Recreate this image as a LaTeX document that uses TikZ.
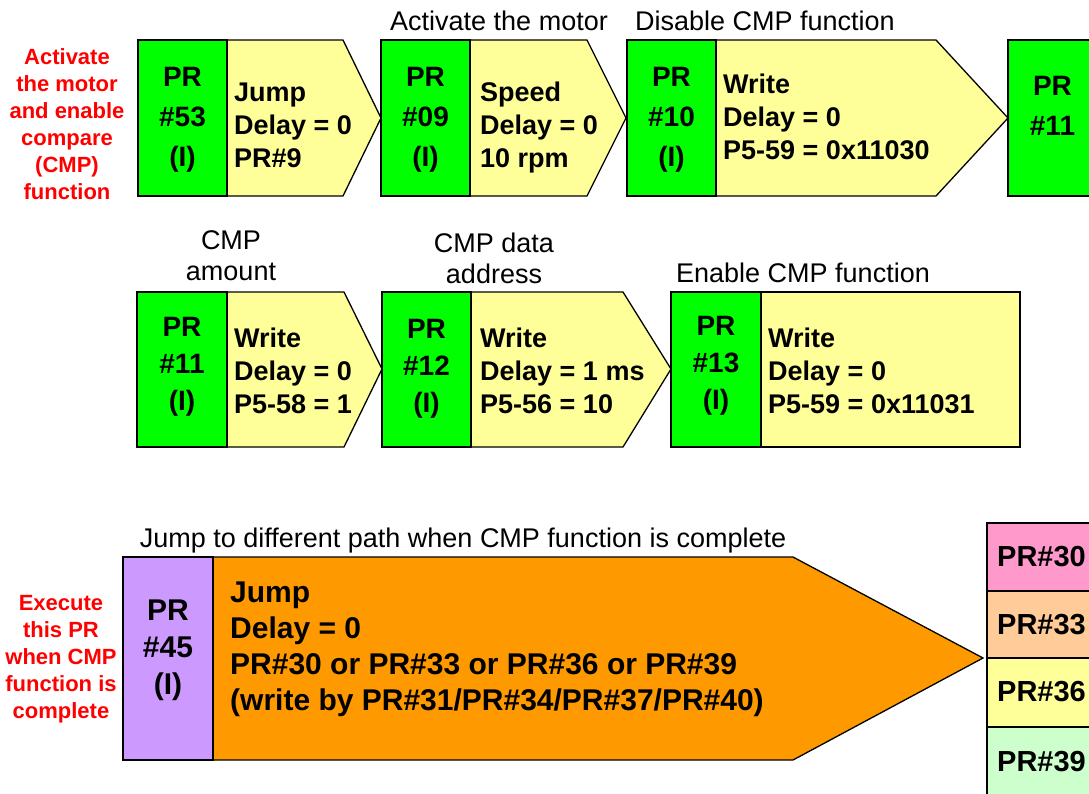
\documentclass[tikz,border=0pt]{standalone}
\usepackage{fontspec}
\setmainfont{Liberation Sans}
\usepackage{tikz}
\usetikzlibrary{positioning}
\definecolor{prgreen}{HTML}{00FF00}
\definecolor{stepyellow}{HTML}{FFFF99}
\definecolor{prpurple}{HTML}{CC99FF}
\definecolor{steporange}{HTML}{FF9900}
\definecolor{pathpink}{HTML}{FF99CC}
\definecolor{pathpeach}{HTML}{FFCC99}
\definecolor{pathgreen}{HTML}{CCFFCC}
\definecolor{notered}{HTML}{FF0000}
\tikzset{
  shapeline/.style={draw=black, line width=1.3pt, line join=miter},
  greencell/.style={shapeline, fill=prgreen},
  purplecell/.style={shapeline, fill=prpurple},
  yellowstep/.style={shapeline, fill=stepyellow},
  orangestep/.style={shapeline, fill=steporange},
  celltext/.style={align=center, inner sep=0pt, font=\fontsize{28}{40}\selectfont\bfseries},
  steptext/.style={anchor=west, align=left, inner sep=0pt, font=\fontsize{27}{33}\selectfont\bfseries},
  captext/.style={align=center, inner sep=0pt, font=\fontsize{27}{31}\selectfont},
  redlab/.style={align=center, inner sep=0pt, text=notered, font=\fontsize{22}{27}\selectfont\bfseries},
  pathtext/.style={anchor=west, inner sep=0pt, font=\fontsize{29}{33}\selectfont\bfseries},
}

\begin{document}
\begin{tikzpicture}[x=1pt, y=-1pt]
    \useasboundingbox (0,0) rectangle (1089,793);
    \clip (0,0) rectangle (1089,793);

    % first row
    \node[redlab] (noteon) at (67,124) {Activate\\the motor\\and enable\\compare\\(CMP)\\function};
    \filldraw[yellowstep] (227,40) -- (343,40) -- (381,118) -- (343,196) -- (227,196) -- cycle;
    \filldraw[greencell] (138,40) rectangle (227,196);
    \node[celltext] (pr53) at (182.5,120) {PR\\\#53\\(I)};
    \node[steptext] (jump53) at (234,125) {Jump\\Delay = 0\\PR\#9};

    \node[captext] (capmotor) at (499,21) {Activate the motor};
    \filldraw[yellowstep] (470,40) -- (587,40) -- (626,118) -- (587,196) -- (470,196) -- cycle;
    \filldraw[greencell] (381,40) rectangle (470,196);
    \node[celltext] (pr09) at (425.5,120) {PR\\\#09\\(I)};
    \node[steptext] (speed09) at (480,128) {Speed\\Delay = 0\\10 rpm};

    \node[captext] (capoff) at (765,21) {Disable CMP function};
    \filldraw[yellowstep] (716,40) -- (936,40) -- (1008,118) -- (936,196) -- (716,196) -- cycle;
    \filldraw[greencell] (627,40) rectangle (716,196);
    \node[celltext] (pr10) at (671.5,120) {PR\\\#10\\(I)};
    \node[steptext] (write10) at (723,117) {Write\\Delay = 0\\P5-59 = 0x11030};

    \filldraw[greencell] (1008,40) rectangle (1097,196);
    \node[celltext] (pr11next) at (1052.5,106) {PR\\\#11};

    % second row
    \node[captext] (capamount) at (231,256) {CMP\\amount};
    \filldraw[yellowstep] (227,292) -- (344,292) -- (382,369) -- (344,447) -- (227,447) -- cycle;
    \filldraw[greencell] (137,292) rectangle (227,447);
    \node[celltext, font=\fontsize{28}{37}\selectfont\bfseries] (pr11) at (182,367) {PR\\\#11\\(I)};
    \node[steptext] (write11) at (234,371) {Write\\Delay = 0\\P5-58 = 1};

    \node[captext] (capaddr) at (494,258) {CMP data\\address};
    \filldraw[yellowstep] (471,292) -- (623,292) -- (671,369) -- (623,447) -- (471,447) -- cycle;
    \filldraw[greencell] (382,292) rectangle (471,447);
    \node[celltext, font=\fontsize{28}{37}\selectfont\bfseries] (pr12) at (426.5,369) {PR\\\#12\\(I)};
    \node[steptext] (write12) at (480,371) {Write\\Delay = 1 ms\\P5-56 = 10};

    \node[captext] (capon) at (803,273) {Enable CMP function};
    \filldraw[yellowstep] (761,292) rectangle (1020,447);
    \filldraw[greencell] (671,292) rectangle (761,447);
    \node[celltext, font=\fontsize{28}{37}\selectfont\bfseries] (pr13) at (716,366) {PR\\\#13\\(I)};
    \node[steptext] (write13) at (768,371) {Write\\Delay = 0\\P5-59 = 0x11031};

    % third row
    \node[redlab] (notedone) at (61,659) {Execute\\this PR\\when CMP\\function is\\complete};
    \node[captext] (capjump) at (463,541) {Jump to different path when CMP function is complete};
    \filldraw[orangestep] (213,557) -- (793,557) -- (983,658) -- (793,760) -- (213,760) -- cycle;
    \filldraw[purplecell] (123,557) rectangle (213,760);
    \node[celltext, font=\fontsize{30}{37}\selectfont\bfseries] (pr45) at (168,650) {PR\\\#45\\(I)};
    \node[steptext, font=\fontsize{30}{36}\selectfont\bfseries] (jump45) at (230,649)
      {Jump\\Delay = 0\\PR\#30 or PR\#33 or PR\#36 or PR\#39\\(write by PR\#31/PR\#34/PR\#37/PR\#40)};

    \filldraw[shapeline, fill=pathpink] (987,523) rectangle (1120,591);
    \filldraw[shapeline, fill=pathpeach] (987,591) rectangle (1120,658);
    \filldraw[shapeline, fill=stepyellow] (987,658) rectangle (1120,727);
    \filldraw[shapeline, fill=pathgreen] (987,727) rectangle (1120,800);
    \node[pathtext] (pr30) at (997,557) {PR\#30};
    \node[pathtext] (pr33) at (997,625) {PR\#33};
    \node[pathtext] (pr36) at (997,692) {PR\#36};
    \node[pathtext] (pr39) at (997,762) {PR\#39};
\end{tikzpicture}
\end{document}
